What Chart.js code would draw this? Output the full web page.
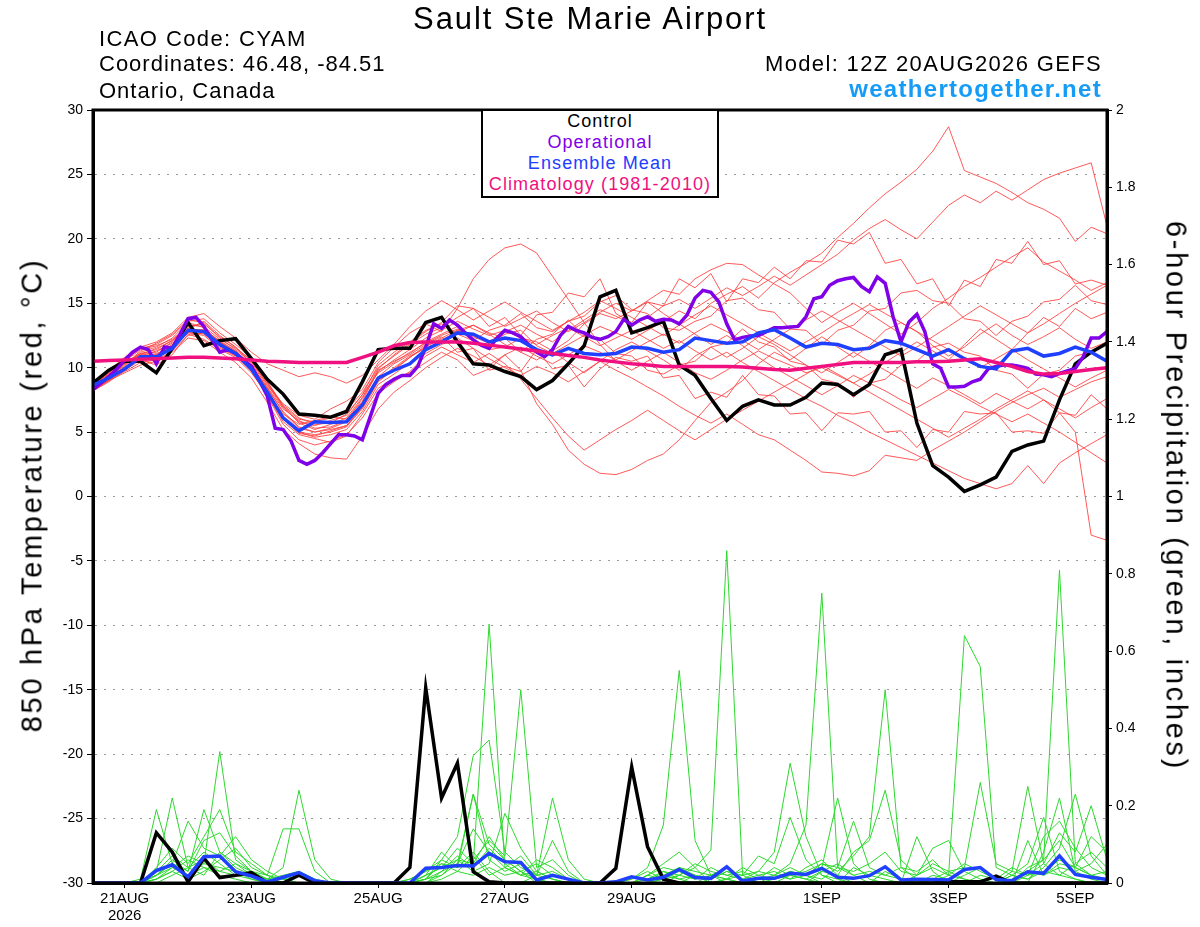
<!DOCTYPE html>
<html><head><meta charset="utf-8">
<script src="https://cdn.jsdelivr.net/npm/chart.js@4.4.1/dist/chart.umd.min.js"></script>
<style>
html,body{margin:0;padding:0;background:#fff;}
#wrap{position:relative;width:1200px;height:927px;overflow:hidden;font-family:"Liberation Sans",Arial,Helvetica,sans-serif;color:#000;}
canvas{position:absolute;left:0;top:0;}
.t{position:absolute;white-space:nowrap;line-height:1;}
#legend{position:absolute;left:481px;top:109px;width:234px;height:85px;border:2px solid #000;background:#fff;text-align:center;font-size:18px;letter-spacing:1.1px;line-height:21px;z-index:2;}
</style></head><body>
<div id="wrap">
<canvas id="c" width="1200" height="927"></canvas>
<div class="t" style="left:0;width:1180px;text-align:center;top:3px;font-size:31px;letter-spacing:1.9px;">Sault Ste Marie Airport</div>
<div class="t" style="left:99px;top:28px;font-size:22px;letter-spacing:1.4px;">ICAO Code: CYAM</div>
<div class="t" style="left:99px;top:53px;font-size:22px;letter-spacing:1.0px;">Coordinates: 46.48, -84.51</div>
<div class="t" style="left:99px;top:80px;font-size:22px;letter-spacing:1.0px;">Ontario, Canada</div>
<div class="t" style="right:98px;top:53px;font-size:22px;letter-spacing:1.35px;">Model: 12Z 20AUG2026 GEFS</div>
<div class="t" style="right:98px;top:77px;font-size:24px;font-weight:bold;letter-spacing:1.3px;color:#169cf6;">weathertogether.net</div>
<div id="legend">
<div style="color:#000">Control</div>
<div style="color:#8000e8">Operational</div>
<div style="color:#2040ff">Ensemble Mean</div>
<div style="color:#f0107f">Climatology (1981-2010)</div>
</div>
<div class="t" style="left:32px;top:495px;transform:translate(-50%,-50%) rotate(-90deg);font-size:29px;letter-spacing:2.7px;">850 hPa Temperature (red, °C)</div>
<div class="t" style="left:1176px;top:496px;transform:translate(-50%,-50%) rotate(90deg);font-size:29px;letter-spacing:2.7px;">6-hour Precipitation (green, inches)</div>
</div>
<script>
// ---- time axis (forecast hours from 12Z 20AUG2026) ----
const hours = Array.from({length:65},(_,i)=>i*6);
const opHours = Array.from({length:129},(_,j)=>j*3);
const tickHours = [12,60,108,156,204,276,324,372];
const tickLabels = [['21AUG','2026'],'23AUG','25AUG','27AUG','29AUG','1SEP','3SEP','5SEP'];

// ---- 850 hPa temperature (C) ----
const controlTemp = [8.8,9.8,10.5,10.5,9.6,11.5,13.5,11.7,12.1,12.25,
 10.7,9.1,7.95,6.4,6.3,6.15,6.6,8.9,11.4,11.5,
 11.5,13.5,13.9,12.0,10.3,10.2,9.7,9.3,8.3,9.0,
 10.3,11.7,15.5,16.0,12.7,13.1,13.6,10.2,9.4,7.6,
 5.9,7.0,7.5,7.1,7.1,7.7,8.8,8.7,7.9,8.7,
 11.0,11.4,5.7,2.4,1.5,0.4,0.9,1.5,3.5,4.0,
 4.3,7.5,10.3,11.2,11.9];
const meanTemp = [8.65,9.2,9.9,10.85,10.85,11.5,12.9,12.8,11.8,11.1,
 9.9,8.1,6.1,5.1,5.8,5.75,5.8,7.1,9.2,9.8,
 10.3,11.4,12.0,12.7,12.6,12.0,12.3,12.1,11.4,11.0,
 11.5,11.1,11.0,11.1,11.6,11.5,11.2,11.4,12.3,12.1,
 11.9,12.0,12.7,12.95,12.3,11.6,11.9,11.8,11.4,11.5,
 12.1,11.9,11.4,10.9,11.4,10.7,10.1,9.9,11.3,11.5,
 10.9,11.1,11.6,11.2,10.5];
const climTemp = [10.5,10.55,10.6,10.65,10.7,10.75,10.8,10.8,10.75,10.7,
 10.6,10.5,10.45,10.4,10.4,10.4,10.4,10.8,11.2,11.7,
 11.95,12.0,12.0,12.0,11.9,11.75,11.6,11.45,11.3,11.1,
 10.95,10.8,10.6,10.45,10.3,10.2,10.1,10.1,10.1,10.1,
 10.1,10.05,9.95,9.85,9.8,9.95,10.1,10.25,10.4,10.4,
 10.4,10.4,10.45,10.45,10.5,10.6,10.7,10.4,10.1,9.7,
 9.5,9.55,9.7,9.85,10.0];
const operTemp = [8.3,8.8,9.3,9.9,10.6,11.2,11.6,11.4,10.3,11.6,
 11.5,12.6,13.8,13.9,13.2,12.2,11.2,11.4,11.1,10.6,
 10.1,9.0,7.8,5.3,5.2,4.3,2.8,2.5,2.8,3.4,
 4.1,4.8,4.8,4.7,4.4,6.2,8.0,8.7,9.1,9.4,
 9.4,10.1,11.6,13.4,13.05,13.7,13.3,12.7,12.15,11.75,
 11.5,12.3,12.9,12.7,12.4,11.8,11.2,10.85,11.4,12.5,
 13.2,12.9,12.7,12.35,12.2,12.4,12.8,13.75,13.3,13.7,
 13.95,13.6,13.75,13.7,13.4,14.1,15.4,16.0,15.85,15.1,
 13.4,12.15,12.35,12.45,12.5,12.8,13.1,13.1,13.15,13.2,
 13.95,15.35,15.5,16.4,16.75,16.9,17.0,16.3,15.9,17.05,
 16.55,13.95,12.0,13.55,14.15,12.8,10.3,9.95,8.5,8.5,
 8.55,8.9,9.1,9.9,10.1,10.2,10.2,10.1,9.95,9.5,
 9.45,9.3,9.55,9.75,9.95,10.85,12.3,12.3,12.8];

// ensemble members (temperature)
const mem01 = [8.4,9.1,10.1,11.2,11.6,12.3,13.5,13.1,12.0,11.0,9.8, 8.0,6.4,5.6,5.9,6.2,6.0,7.4, 9.8,10.5,11.1,12.0, 12.6,13.2,12.4,11.9,12.6,12.9,11.7,11.1,11.8,12.5,13.2,12.7, 12.2,12.9,13.6,14.4,13.8,15.0,15.7,16.3,15.4,16.6,17.4,18.1, 18.9,20.1,21.2,22.4,23.5,24.4,25.4,26.8,28.7,25.3,24.8,24.3,23.6,22.8,22.3,21.6,19.8,20.9,20.4];
const mem02 = [8.6,9.5,10.4,11.0,11.0,11.8,13.0,13.6,12.5,11.6,10.3, 8.6,7.2,6.3,6.0,6.8,7.4,8.3, 10.4,11.6,12.7,13.4, 12.8,14.6,16.9,18.4,19.3,19.6,18.9,17.1,15.3,13.5,11.8,10.5, 9.8,10.5,11.2,10.4,9.6,9.1,9.8,10.6,11.3,10.7,10.2,9.6, 10.0,9.4,8.8,9.5,10.4,11.2,12.0,11.3,10.6,11.8,13.0,12.2,11.4,12.7,13.9,13.2,14.6,13.8,14.3];
const mem03 = [8.2,8.9,9.8,10.6,10.2,11.0,12.6,12.2,11.4,10.8,9.6, 7.9,5.8,4.8,4.5,4.2,4.7,6.4, 8.4,9.2,9.6,10.4, 11.2,10.6,9.4,9.9,11.0,9.8,7.2,5.6,3.6,2.5,1.8,1.7, 2.1,2.8,3.3,4.4,5.9,7.3,8.1,9.0,10.3,11.2,10.6,11.5, 12.4,11.6,10.8,11.7,12.9,13.5,12.8,11.7,10.9,11.6,12.6,13.4,12.5,11.8,12.4,13.1,12.2,11.5,12.0];
const mem04 = [8.8,9.6,10.5,11.4,11.7,12.2,13.2,13.4,12.4,11.6,10.5, 8.7,6.9,5.8,5.5,5.9,6.3,7.9, 9.6,10.4,11.2,11.9, 12.5,13.0,12.2,11.4,11.6,12.3,12.0,11.3,12.1,13.4,14.2,13.8, 14.4,15.2,16.0,15.7,16.9,17.6,18.1,18.0,17.2,16.5,15.8,14.6, 13.5,14.3,15.0,14.2,13.4,12.6,13.5,14.6,15.4,16.3,17.0,17.8,18.6,19.3,18.2,17.5,16.8,16.0,16.6];
const mem05 = [8.3,9.0,9.7,10.4,10.6,11.3,12.5,12.7,12.0,11.3,10.1, 8.4,6.6,5.4,5.0,5.2,5.5,6.8, 8.9,9.9,10.8,11.6, 12.3,12.9,12.5,12.0,12.8,13.3,12.6,12.0,12.9,13.7,14.5,14.0, 13.4,13.9,14.8,15.3,14.6,15.4,16.2,15.6,16.3,17.1,16.4,17.2, 18.0,18.8,19.9,20.8,21.5,20.7,20.0,21.3,22.6,23.4,22.8,23.7,23.0,23.8,24.6,25.1,25.5,25.9,21.0];
const mem06 = [8.5,9.4,10.3,10.9,11.3,11.9,12.8,12.6,11.6,11.0,10.0, 8.0,6.0,4.9,4.7,5.1,5.5,7.0, 9.0,9.8,10.8,11.7, 12.2,12.7,13.3,12.6,11.8,11.2,10.6,11.3,10.4,9.6,10.5,11.4, 12.0,11.3,10.6,9.8,10.9,11.6,10.8,11.5,12.4,11.8,11.0,10.2, 9.6,10.4,11.2,10.5,9.8,9.1,8.4,9.2,8.6,7.9,7.2,8.0,7.4,6.8,7.5,6.5,5.0,-3.0,-3.4];
const mem07 = [8.2,9.0,10.0,10.7,11.0,11.7,12.9,12.9,11.9,11.1,9.9, 8.3,6.2,5.0,4.6,4.8,5.2,6.6, 8.7,9.5,10.4,11.1, 11.8,12.3,11.5,10.7,10.0,9.4,10.1,9.6,8.9,9.7,10.5,9.8, 9.2,8.5,7.8,7.0,6.3,5.7,6.4,5.6,4.8,4.4,3.6,2.8, 1.9,1.8,1.6,2.0,3.2,3.0,2.8,3.6,4.3,5.0,5.8,6.6,7.3,7.9,8.4,7.7,8.3,8.9,9.3];
const mem08 = [8.7,9.5,10.4,11.1,11.2,12.0,13.1,12.8,11.7,11.1,10.1, 8.5,6.8,5.9,5.3,5.4,5.9,7.6, 9.7,10.6,11.4,12.3, 12.9,13.6,13.0,12.5,12.9,12.3,11.8,12.5,13.1,12.4,11.7,12.3, 12.9,12.2,11.5,12.1,11.3,10.6,11.2,10.4,9.7,9.0,8.3,7.6, 7.0,6.3,5.7,5.0,4.4,3.8,3.2,2.6,2.0,1.4,1.0,0.6,1.0,2.4,1.0,2.6,3.4,4.1,4.8];
const mem09 = [8.4,9.2,10.2,11.3,11.9,12.6,13.7,13.5,12.3,11.4,10.4, 8.8,7.0,6.0,5.8,6.1,6.7,8.1, 10.0,10.9,11.8,12.6, 13.1,13.9,14.6,13.9,13.2,13.8,14.4,13.5,12.8,13.5,14.3,15.0, 14.4,15.1,14.2,13.4,12.6,11.8,12.5,11.7,10.8,10.0,9.3,8.6, 7.9,8.6,9.4,8.8,8.2,7.5,6.9,7.6,8.3,7.7,7.0,6.4,5.8,6.4,5.7,5.0,4.2,3.4,2.6];
const mem10 = [8.3,9.0,9.6,10.2,10.5,11.2,12.3,12.1,11.2,10.4,9.2, 7.3,5.2,4.1,3.3,3.0,2.9,4.7, 6.8,8.1,9.0,10.0, 10.8,11.5,10.9,10.2,11.0,11.6,10.9,10.3,11.0,11.7,11.2,10.6, 11.3,12.0,12.6,11.9,12.7,13.4,12.8,12.1,11.4,12.2,13.0,13.7, 14.4,13.7,13.0,12.3,11.6,10.9,11.6,12.4,13.2,14.0,14.8,14.1,13.4,12.7,13.4,14.2,15.0,15.7,16.4];
const mem11 = [8.9,9.8,10.8,11.6,12.0,12.7,13.9,14.2,13.2,12.3,11.2, 10.3,9.8,9.3,9.6,9.3,8.8,9.4, 10.6,11.8,13.2,14.4, 15.2,14.5,13.7,14.4,15.1,14.3,13.6,12.9,13.6,14.3,15.2,14.6, 13.9,13.2,12.5,13.3,14.1,14.8,14.1,13.4,12.7,12.0,11.3,12.0, 12.7,13.5,14.2,14.9,14.2,13.5,12.8,12.1,11.4,10.7,10.0,10.7,11.4,10.6,9.9,9.2,8.5,9.2,9.8];
const mem12 = [8.6,9.3,10.0,10.8,11.1,11.6,12.7,12.5,11.5,10.9,9.7, 7.8,5.6,4.4,4.0,4.3,4.8,6.1, 8.0,8.9,9.7,10.9, 11.6,11.0,10.4,11.1,10.3,9.1,7.6,6.1,4.7,3.6,4.4,5.2, 5.9,6.7,5.9,5.1,4.4,5.2,6.0,6.7,7.4,8.1,8.8,9.5, 10.2,9.5,8.8,8.1,7.4,6.7,6.0,5.3,4.6,5.3,6.0,6.8,7.5,8.2,7.5,6.8,6.1,6.9,7.6];
const mem13 = [8.4,9.2,10.3,11.1,11.4,12.1,13.3,13.2,12.2,11.5,10.6, 8.9,7.0,5.7,5.2,5.6,6.1,7.7, 9.9,11.0,11.9,12.8, 13.5,14.8,14.6,13.2,13.9,12.5,14.1,14.3,15.8,15.5,16.9,14.2, 13.5,15.1,14.8,16.9,16.2,17.3,15.1,16.9,16.6,17.8,16.9,18.3, 18.2,19.9,19.6,20.5,18.1,18.4,16.5,16.9,14.8,16.8,16.3,18.4,18.1,19.8,18.0,18.3,16.5,16.8,16.4];
const mem14 = [8.5,9.4,10.3,11.0,11.5,12.1,13.0,12.9,12.1,11.3,10.2, 8.4,6.5,5.3,5.0,5.3,5.8,7.3, 9.3,10.3,11.0,11.8, 12.4,11.2,11.5,9.8,10.1,9.7,11.4,9.9,10.2,8.5,9.9,10.8, 10.5,10.9,9.2,9.4,7.6,8.1,7.7,9.4,7.9,7.8,6.4,6.5, 5.1,6.5,6.4,6.6,5.0,5.1,3.8,5.2,5.0,6.6,6.4,6.5,5.0,5.1,4.9,6.5,6.3,7.9,6.8];
const mem15 = [8.7,9.6,10.6,11.5,11.8,12.5,13.6,13.8,12.7,11.8,10.8, 8.9,7.1,6.1,5.6,5.7,6.4,7.9, 10.2,11.2,12.0,12.9, 13.4,12.6,12.1,12.9,13.3,14.2,13.1,12.8,13.6,14.0,15.1,15.6, 14.5,14.2,13.1,12.9,13.6,14.0,15.2,15.4,14.5,14.3,13.0,12.9, 11.8,12.9,13.3,14.4,14.6,15.8,16.0,15.2,15.0,13.8,13.6,12.5,13.6,14.0,15.1,15.3,16.4,15.2,14.9];
const mem16 = [8.3,9.1,9.9,10.7,10.9,11.5,12.7,13.0,12.0,11.2,10.1, 8.1,6.1,5.0,4.8,5.0,5.4,6.9, 9.1,10.0,10.9,11.5, 12.0,12.9,13.3,12.7,12.3,11.2,12.2,12.6,13.7,12.5,12.2,11.1, 10.9,9.8,9.5,10.2,10.5,11.6,11.9,13.0,12.0,11.6,10.5,10.2, 9.1,8.8,7.7,8.8,9.1,10.2,10.5,11.6,11.9,11.2,10.9,9.8,9.5,8.4,9.5,9.8,10.9,11.2,10.6];
const memberTemps = [mem01,mem02,mem03,mem04,mem05,mem06,mem07,mem08,mem09,mem10,mem11,mem12,mem13,mem14,mem15,mem16];

// ---- 6-hour precipitation (inches) ----
const controlPrecip = [0,0,0,0,0.13, 0.08,0.003,0.064,0.014,0.02, 0.027,0,0,0.02,0, 0,0,0,0,0,
 0.04,0.505,0.22,0.31,0.029, 0.003,0,0,0,0, 0,0,0,0.038,0.30, 0.094,0.01,0,0,0,
 0,0,0,0,0, 0,0,0,0,0, 0,0,0,0,0.003, 0.003,0.003,0.018,0,0, 0,0,0,0,0];
const meanPrecip = [0,0,0,0,0.032, 0.047,0.016,0.068,0.07,0.029, 0.018,0.003,0.015,0.027,0.006, 0,0,0,0,0,
 0,0.038,0.04,0.045,0.044, 0.077,0.055,0.053,0.008,0.02, 0.01,0,0,0.003,0.016, 0.008,0.015,0.035,0.014,0.012,
 0.042,0.005,0.012,0.012,0.025, 0.022,0.038,0.015,0.012,0.019, 0.042,0.008,0.01,0.009,0.008, 0.035,0.04,0.009,0.006,0.029,
 0.025,0.07,0.022,0.015,0.009];
const pcp01 = [0,0,0,0.01,0.19, 0.05,0.02,0.04,0.02,0.01, 0,0,0,0,0, 0,0,0,0,0, 0.01,0.03,0.06,0.04,0.08, 0.03,0,0,0.02,0.22, 0.06,0.01,0,0,0, 0,0,0.02,0.04,0, 0,0,0,0,0.02, 0.01,0,0,0,0, 0,0,0,0,0, 0,0,0,0.03,0.25, 0.05,0.02,0.01,0,0];
const pcp02 = [0,0,0,0,0.03, 0.22,0.04,0.08,0.05,0.02, 0.01,0,0,0,0, 0,0,0,0,0, 0,0.02,0.04,0.09,0.05, 0.12,0.06,0.03,0,0, 0,0,0,0,0.01, 0.04,0.15,0.55,0.11,0.02, 0,0,0,0.01,0.03, 0.02,0,0,0.04,0.02, 0.01,0,0,0,0, 0,0,0,0.02,0.05, 0.17,0.03,0.01,0,0];
const pcp03 = [0,0,0,0,0.02, 0.06,0.03,0.19,0.08,0.04, 0.02,0,0,0,0, 0,0,0,0,0, 0,0.01,0.03,0.05,0.14, 0.08,0.04,0.02,0.01,0, 0,0,0,0,0, 0.02,0.05,0.08,0.04,0.085, 0.86,0.02,0,0,0, 0,0.03,0.02,0,0, 0,0,0,0.02,0.01, 0,0,0,0,0.04, 0.06,0.81,0.05,0.02,0.01];
const pcp04 = [0,0,0,0,0.01, 0.04,0.07,0.05,0.34,0.06, 0.03,0.01,0,0,0, 0,0,0,0,0, 0,0,0.02,0.06,0.03, 0.05,0.18,0.09,0.03,0.01, 0,0,0,0,0, 0,0.03,0.01,0,0.02, 0.04,0.01,0.03,0.08,0.31, 0.12,0.02,0,0,0, 0.03,0.01,0,0,0, 0.02,0.04,0.01,0,0, 0.08,0.22,0.03,0.01,0];
const pcp05 = [0,0,0,0,0.04, 0.09,0.05,0.12,0.19,0.08, 0.05,0.02,0,0,0, 0,0,0,0,0, 0,0.01,0.05,0.03,0.07, 0.02,0.04,0.07,0.02,0.11, 0.03,0,0,0,0, 0,0.01,0,0.02,0.01, 0.03,0.02,0.07,0.05,0.17, 0.06,0.02,0.01,0,0, 0,0,0.12,0.03,0, 0,0,0,0.02,0.01, 0.04,0.09,0.23,0.07,0.02];
const pcp06 = [0,0,0,0,0.02, 0.05,0.16,0.09,0.07,0.12, 0.06,0.03,0.01,0,0, 0,0,0,0,0, 0,0,0.01,0.03,0.02, 0.04,0.02,0.03,0.01,0, 0,0,0,0,0, 0.01,0.03,0.02,0.01,0.04, 0.02,0.01,0,0.02,0.05, 0.15,0.75,0.04,0.02,0, 0,0,0,0.01,0.03, 0.01,0,0,0,0.02, 0.05,0.13,0.08,0.20,0.06];
const pcp07 = [0,0,0,0,0, 0.02,0.04,0.06,0.03,0.05, 0.02,0.01,0.04,0.24,0.06, 0.01,0,0,0,0, 0,0,0.03,0.07,0.04, 0.09,0.05,0.02,0.06,0.04, 0.01,0,0,0,0.01, 0.03,0.01,0.04,0.02,0, 0.01,0.04,0.02,0.01,0.03, 0.02,0.04,0.22,0.05,0.01, 0,0,0.02,0.09,0.11, 0.03,0.01,0,0,0.11, 0.02,0.04,0.03,0.05,0.1];
const pcp08 = [0,0,0,0,0.01, 0.03,0.01,0.03,0.06,0.09, 0.04,0.02,0.14,0.14,0.03, 0,0,0,0,0, 0,0.01,0.02,0.05,0.23, 0.06,0.03,0.05,0.02,0.01, 0,0,0,0,0, 0.02,0.01,0.03,0.01,0.02, 0.01,0,0.01,0.04,0.02, 0.03,0.05,0.04,0.16,0.04, 0.02,0.01,0,0,0.02, 0.01,0,0,0.01,0.03, 0.06,0.11,0.04,0.02,0.01];
const pcp09 = [0,0,0,0,0.02, 0.04,0.02,0.05,0.04,0.03, 0.01,0,0,0,0, 0,0,0,0,0, 0,0.02,0.04,0.06,0.05, 0.67,0.04,0.02,0.03,0.01, 0,0,0,0,0, 0,0.02,0.01,0.02,0, 0.01,0.02,0.03,0.02,0.04, 0.02,0.05,0.03,0.07,0.12, 0.50,0.04,0.01,0,0, 0,0.02,0.01,0,0.03, 0.02,0.05,0.04,0.02,0.03];
const pcp10 = [0,0,0,0,0.03, 0.07,0.04,0.02,0.08,0.05, 0.03,0.01,0.02,0.03,0.01, 0,0,0,0,0, 0,0.01,0.06,0.12,0.33, 0.37,0.08,0.04,0.02,0.03, 0.01,0,0,0,0, 0.01,0.02,0.04,0.03,0.02, 0.01,0,0.01,0.02,0.01, 0.04,0.06,0.02,0.08,0.11, 0.24,0.06,0.02,0.04,0.02, 0.05,0.03,0.01,0.04,0.02, 0.12,0.16,0.09,0.04,0.02];
const pcp11 = [0,0,0,0,0.01, 0.03,0.06,0.04,0.03,0.02, 0.02,0.01,0.01,0,0, 0,0,0,0,0, 0.01,0.03,0.05,0.04,0.23, 0.1,0.06,0.03,0.05,0.02, 0.01,0,0,0,0, 0,0.01,0.02,0.05,0.03, 0.02,0.03,0.01,0.01,0.02, 0.01,0.03,0.05,0.02,0.03, 0.02,0.04,0.03,0.06,0.02, 0.64,0.56,0.04,0.02,0.01, 0.03,0.02,0.05,0.08,0.04];
const pcp12 = [0,0,0,0,0.02, 0.05,0.03,0.11,0.13,0.07, 0.03,0.02,0.01,0.02,0.01, 0,0,0,0,0, 0,0.02,0.08,0.04,0.06, 0.11,0.07,0.50,0.04,0.06, 0.02,0,0,0,0, 0.02,0.04,0.03,0.02,0.01, 0.03,0.01,0.02,0.03,0.01, 0.02,0.01,0.04,0.03,0.05, 0.08,0.03,0.02,0.05,0.03, 0.04,0.26,0.05,0.03,0.02, 0.03,0.06,0.04,0.12,0.08];
const memberPrecips = [pcp01,pcp02,pcp03,pcp04,pcp05,pcp06,pcp07,pcp08,pcp09,pcp10,pcp11,pcp12];

// ---- styles ----
const C_RED='rgba(255,60,60,0.85)', C_GREEN='#2ed82e', C_CTRL='#000000', C_OPER='#8000e8', C_MEAN='#2040ff', C_CLIM='#f0107f';

const pts = (hrs, vals) => vals.map((v,i)=>({x:hrs[i], y:v}));
const line = (data, color, width, axis, order) => ({
  type:'line', data, borderColor:color, backgroundColor:color, borderWidth:width,
  pointRadius:0, fill:false, tension:0, yAxisID:axis, order
});

const datasets = [];
memberTemps.forEach(m => datasets.push(line(pts(hours,m), C_RED, 1, 'y', 80)));
memberPrecips.forEach(m => datasets.push(line(pts(hours,m), C_GREEN, 1, 'y2', 70)));
datasets.push(line(pts(hours,controlPrecip), C_CTRL, 3.5, 'y2', 60));
datasets.push(line(pts(hours,meanPrecip), C_MEAN, 3.5, 'y2', 55));
datasets.push(line(pts(hours,controlTemp), C_CTRL, 3.5, 'y', 40));
datasets.push(line(pts(opHours,operTemp), C_OPER, 3.5, 'y', 30));
datasets.push(line(pts(hours,meanTemp), C_MEAN, 3.5, 'y', 20));
datasets.push(line(pts(hours,climTemp), C_CLIM, 3.5, 'y', 10));

const frame = {id:'frame', afterDatasetsDraw(chart){
  const {ctx, chartArea:a} = chart;
  ctx.save(); ctx.strokeStyle='#000'; ctx.lineWidth=3;
  ctx.strokeRect(a.left, a.top, a.right-a.left, a.bottom-a.top);
  ctx.restore();
}};

Chart.defaults.font.family = '"Liberation Sans", Arial, Helvetica, sans-serif';
Chart.defaults.color = '#000';

new Chart(document.getElementById('c'), {
  type:'line',
  data:{datasets},
  options:{
    responsive:false, animation:false, devicePixelRatio:1, events:[],
    layout:{padding:{top:110,left:0,right:0,bottom:0}},
    plugins:{legend:{display:false}, tooltip:{enabled:false}, title:{display:false}},
    scales:{
      x:{type:'linear', min:0, max:384,
        afterFit(s){ s.height = 44; },
        afterBuildTicks(s){ s.ticks = tickHours.map(v=>({value:v})); },
        ticks:{autoSkip:false, maxRotation:0, minRotation:0, padding:3, color:'#000',
          font:{size:15, lineHeight:1.1},
          callback:(v)=>{ const k = tickHours.indexOf(v); return k<0 ? '' : tickLabels[k]; }},
        grid:{drawOnChartArea:false, drawTicks:true, tickLength:5, tickColor:'#000', tickWidth:1},
        border:{display:true, color:'#000', width:3}
      },
      y:{position:'left', min:-30, max:30,
        afterFit(s){ s.width = 93; },
        ticks:{stepSize:5, color:'#000', padding:4, font:{size:14}},
        grid:{color:'#9a9a9a', lineWidth:1, tickColor:'#000', tickLength:6, tickWidth:1},
        border:{display:true, color:'#000', width:3, dash:[2,7]}
      },
      y2:{position:'right', min:0, max:2,
        afterFit(s){ s.width = 93; },
        ticks:{stepSize:0.2, color:'#000', padding:4, font:{size:14},
          callback:(v)=>String(+Number(v).toFixed(1))},
        grid:{drawOnChartArea:false, drawTicks:true, tickColor:'#000', tickLength:5, tickWidth:1},
        border:{display:true, color:'#000', width:3}
      }
    }
  },
  plugins:[frame]
});
</script>
</body></html>
